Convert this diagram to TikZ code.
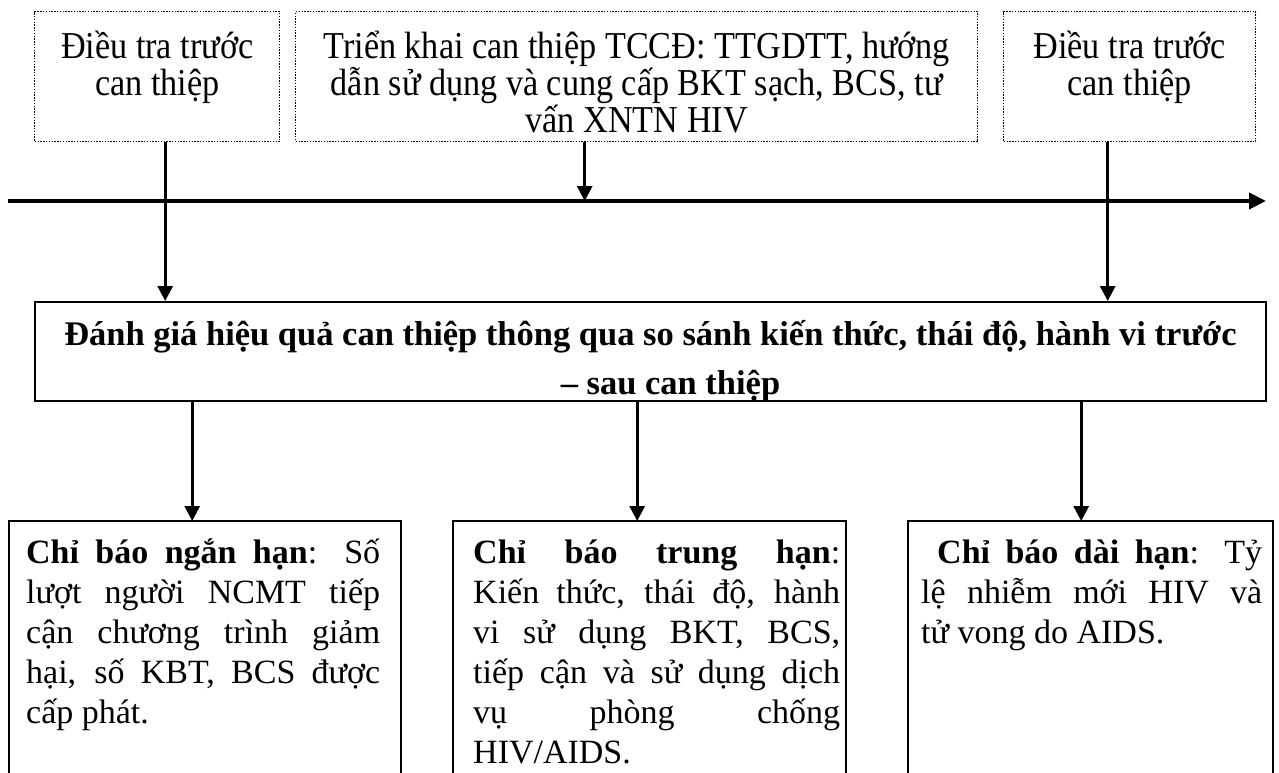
\documentclass[tikz,border=0pt]{standalone}
\usepackage{fontspec}
\setmainfont{Liberation Serif}
\newfontfamily\tallfont{Liberation Serif}[FakeStretch=0.9]
\usetikzlibrary{arrows.meta,calc}
\newcommand{\jl}[1]{\makebox[\linewidth][s]{#1}}
\begin{document}
\begin{tikzpicture}[x=1pt,y=-1pt,
  topbox/.style={draw, line width=1.4pt, dash pattern=on 1.4pt off 1.4pt, inner sep=0pt, anchor=north west},
  mainbox/.style={draw, line width=2pt, inner sep=0pt, anchor=north west},
  botbox/.style={inner sep=0pt, anchor=north west},
  botedge/.style={line width=2pt},
  arr/.style={line width=3pt, -{Triangle[length=15pt,width=15pt]}},
  tline/.style={line width=4pt, -{Triangle[length=17pt,width=16pt]}}]
\fill[white] (0,0) rectangle (1279,773);
\useasboundingbox (0,0) rectangle (1279,773);
% top boxes
\node[topbox] (tb1) at (34,11) {\parbox[c][130pt][t]{245pt}{\centering\tallfont\fontsize{38}{37}\selectfont\lineskiplimit=-100pt\rule{0pt}{47pt}Điều tra trước\\can thiệp}};
\node[topbox] (tb2) at (295,11) {\parbox[c][130pt][t]{682pt}{\centering\tallfont\fontsize{38}{37}\selectfont\lineskiplimit=-100pt\rule{0pt}{47pt}Triển khai can thiệp TCCĐ: TTGDTT, hướng\\dẫn sử dụng và cung cấp BKT sạch, BCS, tư\\vấn XNTN HIV}};
\node[topbox] (tb3) at (1003,11) {\parbox[c][130pt][t]{252pt}{\centering\tallfont\fontsize{38}{37}\selectfont\lineskiplimit=-100pt\rule{0pt}{47pt}Điều tra trước\\can thiệp}};
% main box
\node[mainbox] (main) at (34,301) {\parbox[c][99pt][t]{1231pt}{\centering\fontsize{34.5}{49}\selectfont\bfseries\rule{0pt}{43pt}Đánh giá hiệu quả can thiệp thông qua so sánh kiến thức, thái độ, hành vi trước\\\hspace*{40pt}– sau can thiệp}};
% bottom boxes
\node[botbox] (bb1) at (9,521) {\parbox[c][256pt][t]{392pt}{\rule{0pt}{42pt}\hspace*{17pt}\parbox[t]{354pt}{\fontsize{34}{40}\selectfont
\jl{\textbf{Chỉ báo ngắn hạn}: Số}\\
\jl{lượt người NCMT tiếp}\\
\jl{cận chương trình giảm}\\
\jl{hại, số KBT, BCS được}\\
cấp phát.}}};
\node[botbox] (bb2) at (453,521) {\parbox[c][256pt][t]{393pt}{\rule{0pt}{42pt}\hspace*{20pt}\parbox[t]{367pt}{\fontsize{34}{40}\selectfont
\jl{\textbf{Chỉ báo trung hạn}:}\\
\jl{Kiến thức, thái độ, hành}\\
\jl{vi sử dụng BKT, BCS,}\\
\jl{tiếp cận và sử dụng dịch}\\
\jl{vụ phòng chống}\\
HIV/AIDS.}}};
\node[botbox] (bb3) at (908,521) {\parbox[c][256pt][t]{365pt}{\rule{0pt}{42pt}\hspace*{13pt}\parbox[t]{341pt}{\fontsize{34}{40}\selectfont
\jl{\hspace*{16pt}\textbf{Chỉ báo dài hạn}: Tỷ}\\
\jl{lệ nhiễm mới HIV và}\\
tử vong do AIDS.}}};
\foreach \b in {bb1,bb2,bb3}
  \draw[botedge] (\b.south west) -- (\b.north west) -- (\b.north east) -- (\b.south east);
% timeline
\coordinate (tl0) at (8,201);
\coordinate (tl1) at (1266,201);
\draw[tline] (tl0) -- (tl1);
% connectors
\coordinate (a1) at ($(tb1.south)+(8,0)$);
\coordinate (a2) at ($(tb2.south)+(-52,0)$);
\coordinate (a3) at ($(tb3.south)+(-22,0)$);
\draw[arr] (a1) -- (a1 |- main.north);
\draw[arr] (a2) -- (a2 |- tl0);
\draw[arr] (a3) -- (a3 |- main.north);
\coordinate (b1) at ($(bb1.north)+(-13,0)$);
\coordinate (b2) at ($(bb2.north)+(-12.5,0)$);
\coordinate (b3) at ($(bb3.north)+(-9.5,0)$);
\draw[arr] (b1 |- main.south) -- (b1);
\draw[arr] (b2 |- main.south) -- (b2);
\draw[arr] (b3 |- main.south) -- (b3);
\end{tikzpicture}
\end{document}
